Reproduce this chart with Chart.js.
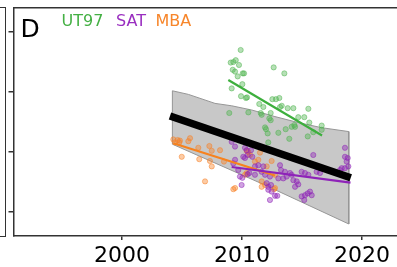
<!DOCTYPE html>
<html><head><meta charset="utf-8">
<script src="https://cdn.jsdelivr.net/npm/chart.js@4/dist/chart.umd.min.js"></script>
<style>
html,body{margin:0;padding:0;background:#fff;overflow:hidden;}
#wrap{position:relative;width:397px;height:267px;overflow:hidden;background:#fff;}
#box{position:absolute;left:0;top:0;width:445px;height:272px;}
#nb{position:absolute;left:-20px;top:7px;width:26px;height:230px;border:1.5px solid #333;box-sizing:border-box;}
.lbl{position:absolute;font-family:"DejaVu Sans";white-space:nowrap;line-height:1;}
</style></head><body>
<div id="wrap">
  <div id="box"><canvas id="c"></canvas></div>
  <div id="nb"></div>
  <div class="lbl" style="left:20.5px;top:16px;font-size:25px;color:#000;">D</div>
  <div class="lbl" style="left:61.5px;top:13px;font-size:16px;color:#44b044;">UT97</div>
  <div class="lbl" style="left:116px;top:13px;font-size:16px;color:#9a2fc0;">SAT</div>
  <div class="lbl" style="left:155.5px;top:13px;font-size:16px;color:#f7862b;">MBA</div>
</div>
<script>
// ---- data ----
const xTicks = [2000, 2010, 2020];
const yTicks = [1, 2, 3, 4];

const ut97Years = [2009.89,2009.06,2009.48,2009.28,2009.75,2009.23,2009.42,2009.64,2010.17,2010.06,2012.64,2013.53,2010.03,2009.14,2009.92,2010.42,2010.33,2012.53,2012.83,2013.11,2011.44,2011.78,2013.31,2013.17,2013.81,2014.28,2015.53,2008.94,2010.53,2011.56,2011.64,2012.39,2012.39,2012.28,2014.69,2015.19,2015.61,2014.36,2014.14,2011.92,2012.0,2013.64,2013.03,2016.64,2016.64,2012.14,2015.94,2012.19,2013.94,2015.48,2014.42];
const ut97Vals  = [3.70,3.49,3.53,3.50,3.45,3.37,3.34,3.26,3.31,3.31,3.41,3.31,3.13,3.06,2.93,2.91,2.90,2.88,2.88,2.90,2.80,2.75,2.77,2.75,2.73,2.73,2.72,2.65,2.66,2.65,2.62,2.65,2.53,2.56,2.58,2.58,2.49,2.45,2.42,2.41,2.38,2.38,2.32,2.44,2.37,2.31,2.33,2.16,2.22,2.26,2.42];

const satYears = [2009.14,2009.42,2010.25,2010.39,2010.75,2010.11,2010.47,2010.86,2009.42,2009.28,2009.69,2009.83,2010.03,2010.47,2010.61,2009.97,2011.08,2011.36,2011.78,2011.64,2011.08,2011.92,2012.33,2012.06,2012.19,2012.42,2012.47,2012.75,2012.94,2013.17,2013.25,2013.58,2013.72,2014.0,2014.28,2014.56,2014.69,2014.42,2014.14,2014.97,2015.25,2015.53,2014.97,2015.25,2015.47,2015.67,2015.81,2015.19,2015.94,2016.22,2016.5,2018.17,2018.31,2018.58,2018.72,2018.58,2018.58,2018.81,2018.86,2013.03,2013.44,2010.25,2012.33,2012.19];
const satVals  = [2.17,2.09,2.07,2.03,2.03,1.92,1.95,1.92,1.87,1.81,1.70,1.59,1.57,1.63,1.65,1.45,1.76,1.78,1.76,1.67,1.62,1.62,1.59,1.48,1.42,1.45,1.34,1.27,1.27,1.78,1.70,1.67,1.59,1.65,1.53,1.51,1.46,1.42,1.62,1.67,1.65,1.62,1.26,1.28,1.31,1.34,1.28,1.20,1.95,1.67,1.65,1.70,1.73,1.73,1.84,2.07,1.92,1.90,1.76,1.56,1.56,1.90,1.20,1.37];

const mbaYears = [2004.28,2004.42,2004.64,2004.83,2004.78,2005.53,2005.67,2004.98,2006.36,2006.44,2007.28,2007.48,2008.17,2007.33,2007.48,2006.92,2008.5,2010.53,2010.67,2011.08,2011.36,2011.5,2012.47,2009.42,2010.25,2010.39,2011.64,2011.64,2011.92,2012.75,2012.75,2012.06,2009.28,2012.67,2010.39];
const mbaVals  = [2.21,2.16,2.20,2.19,2.16,2.18,2.23,1.92,2.07,1.88,2.10,2.02,2.03,1.85,1.76,1.51,1.84,2.00,1.95,1.84,1.87,1.99,1.85,1.40,1.62,1.65,1.51,1.42,1.45,1.40,1.62,1.76,1.38,1.38,2.02];

const ut97TrendYears = [2008.86, 2016.67];
const ut97TrendVals  = [3.20, 2.275];
const satTrendYears  = [2009.14, 2019.04];
const satTrendVals   = [1.75, 1.488];
const mbaTrendYears  = [2004.28, 2012.75];
const mbaTrendVals   = [2.145, 1.608];
const allTrendYears  = [2004.0, 2019.06];
const allTrendVals   = [2.60, 1.572];

const bandTopYears = [2004.2,2005.53,2007.75,2009.14,2010.81,2012.75,2014.69,2016.64,2018.9];
const bandTopVals  = [3.02,2.96,2.81,2.77,2.70,2.59,2.49,2.405,2.34];
const bandBotYears = [2018.9,2011.9,2004.2];
const bandBotVals  = [0.80,1.45,2.13];

// ---- build ----
const pts = (xs, ys) => xs.map((x, i) => ({x, y: ys[i]}));
const bandPts = pts(bandTopYears, bandTopVals).concat(pts(bandBotYears, bandBotVals));
bandPts.push({x: bandTopYears[0], y: bandTopVals[0]});

const GREEN = '#3daf3d', PURPLE = '#8e22b8', ORANGE = '#f7821e';
const scatterDs = (data, rgb) => ({
  type: 'scatter', data, order: 2,
  pointRadius: 2.6, pointBorderWidth: 1,
  backgroundColor: `rgba(${rgb},0.42)`, borderColor: `rgba(${rgb},0.5)`
});
const lineDs = (data, color, width, order) => ({
  type: 'line', data, order, borderColor: color, borderWidth: width,
  pointRadius: 0, fill: false, tension: 0, borderCapStyle: 'butt'
});

new Chart(document.getElementById('c'), {
  type: 'scatter',
  data: {
    datasets: [
      lineDs(pts(allTrendYears, allTrendVals), '#000', 7.5, 0),
      lineDs(pts(ut97TrendYears, ut97TrendVals), GREEN, 2.2, 1),
      lineDs(pts(satTrendYears, satTrendVals), PURPLE, 2.2, 1),
      lineDs(pts(mbaTrendYears, mbaTrendVals), ORANGE, 2.2, 1),
      scatterDs(pts(ut97Years, ut97Vals), '80,180,80'),
      scatterDs(pts(satYears, satVals), '142,34,184'),
      scatterDs(pts(mbaYears, mbaVals), '247,130,40'),
      { type: 'line', data: bandPts, order: 3, fill: 'shape',
        backgroundColor: 'rgb(200,200,200)', borderColor: 'rgb(150,150,150)',
        borderWidth: 1, pointRadius: 0, tension: 0 }
    ]
  },
  options: {
    responsive: true, maintainAspectRatio: false, animation: false,
    devicePixelRatio: 1,
    layout: { padding: { left: 8.5, top: 7.5, right: 0, bottom: 0 } },
    plugins: { legend: { display: false }, tooltip: { enabled: false }, title: { display: false } },
    scales: {
      x: {
        type: 'linear', position: 'bottom', min: 1990.96, max: 2026.5,
        afterBuildTicks: s => { s.ticks = xTicks.map(v => ({value: v})); },
        grid: { display: true, drawOnChartArea: false, drawTicks: true, tickLength: 4, color: '#333', lineWidth: 1.5 },
        border: { display: true, color: '#333', width: 1.5 },
        ticks: { font: { family: 'DejaVu Sans', size: 22, lineHeight: 1 }, color: '#000', padding: 5, maxRotation: 0, autoSkip: false, callback: v => String(v) }
      },
      x2: {
        type: 'linear', position: 'top', min: 1990.96, max: 2026.5,
        grid: { display: false, drawTicks: false, tickLength: 0 }, ticks: { display: false },
        border: { display: true, color: '#333', width: 1.5 }
      },
      y: {
        type: 'linear', position: 'left', min: 0.6, max: 4.408,
        afterBuildTicks: s => { s.ticks = yTicks.map(v => ({value: v})); },
        grid: { display: true, drawOnChartArea: false, drawTicks: true, tickLength: 5, color: '#333', lineWidth: 1.5 },
        border: { display: true, color: '#333', width: 1.5 },
        ticks: { display: false }
      }
    }
  }
});
</script>
</body></html>
